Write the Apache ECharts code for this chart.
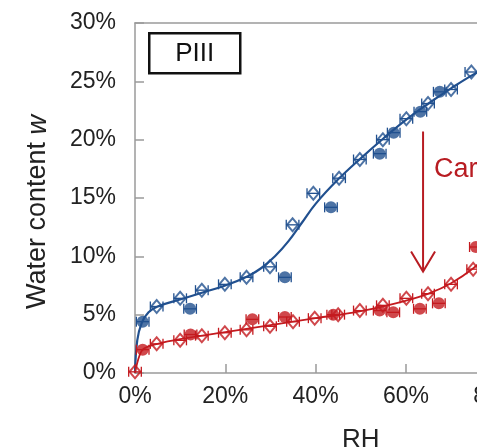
<!DOCTYPE html>
<html>
<head>
<meta charset="utf-8">
<script src="https://cdn.jsdelivr.net/npm/echarts@6/dist/echarts.min.js"></script>
<style>
  html, body { margin: 0; padding: 0; background: #fff; overflow: hidden; }
  #main { width: 700px; height: 447px; }
</style>
</head>
<body>
<div id="main"></div>
<script>
// Sorption isotherm of sample PIII: water content w vs. relative humidity RH (%)
const blueOpenRH = [4.8, 10.0, 14.8, 19.9, 24.7, 29.9, 34.9, 39.5, 45.2, 49.8, 54.9, 60.1, 64.9, 70.0, 74.5];
const blueOpenW  = [5.7, 6.4, 7.1, 7.6, 8.2, 9.1, 12.7, 15.4, 16.7, 18.3, 20.0, 21.8, 23.1, 24.3, 25.8];
const blueFillRH = [1.7, 12.2, 33.2, 43.4, 54.2, 57.3, 63.2, 67.5];
const blueFillW  = [4.4, 5.5, 8.2, 14.2, 18.8, 20.6, 22.4, 24.1];
const blueFitRH  = [0, 0.5, 1.5, 3, 5, 10, 15, 20, 25, 28, 31, 34, 37, 40, 45, 50, 55, 60, 65, 70, 75, 80];
const blueFitW   = [0, 2.8, 4.3, 5.2, 5.7, 6.3, 6.9, 7.5, 8.3, 9.0, 10.0, 11.3, 12.9, 14.5, 16.6, 18.4, 20.1, 21.7, 23.1, 24.4, 25.6, 26.6];

const redOpenRH = [0, 4.8, 10.0, 14.8, 19.9, 24.7, 29.9, 35.0, 39.8, 45.0, 49.8, 54.9, 60.1, 64.9, 70.0, 74.9];
const redOpenW  = [0.1, 2.5, 2.8, 3.2, 3.45, 3.7, 4.0, 4.4, 4.7, 5.0, 5.35, 5.8, 6.4, 6.8, 7.6, 8.9];
const redFillRH = [1.7, 12.3, 26.0, 33.2, 43.9, 54.2, 57.2, 63.1, 67.3, 75.5];
const redFillW  = [2.0, 3.3, 4.6, 4.8, 5.0, 5.35, 5.2, 5.5, 5.97, 10.8];
const redFitRH  = [0, 1, 2, 5, 10, 20, 30, 40, 50, 60, 65, 70, 75, 80];
const redFitW   = [0, 1.5, 2.1, 2.5, 2.9, 3.5, 4.1, 4.7, 5.3, 6.2, 6.8, 7.7, 9.0, 10.8];

const rhError = 1.4;               // horizontal uncertainty on RH (percentage points)
const arrowRH = 63.8;              // carbonation arrow: RH position, start w, end w
const arrowFromW = 20.7;
const arrowToW = 8.7;

const xTicks = [0, 20, 40, 60, 80, 100];
const yTicks = [0, 5, 10, 15, 20, 25, 30];

const BLUE = '#21508f';
const RED = '#c41a1f';
const AXIS = '#9a9a9a';
const FONT = '"Liberation Sans", Arial, Helvetica, sans-serif';

const pairs = (xs, ys) => xs.map((x, i) => [x, ys[i]]);
const withErr = (xs, ys) => xs.map((x, i) => [x, ys[i], rhError]);

function errorBars(color) {
  return function (params, api) {
    const x = api.value(0), y = api.value(1), e = api.value(2);
    const a = api.coord([x - e, y]);
    const b = api.coord([x + e, y]);
    const h = 5;
    const st = { stroke: color, lineWidth: 1.3, fill: null };
    return {
      type: 'group',
      children: [
        { type: 'line', shape: { x1: a[0], y1: a[1], x2: b[0], y2: b[1] }, style: st },
        { type: 'line', shape: { x1: a[0], y1: a[1] - h, x2: a[0], y2: a[1] + h }, style: st },
        { type: 'line', shape: { x1: b[0], y1: b[1] - h, x2: b[0], y2: b[1] + h }, style: st }
      ]
    };
  };
}

const chart = echarts.init(document.getElementById('main'), null, { renderer: 'canvas' });

const option = {
  animation: false,
  backgroundColor: '#fff',
  grid: { left: 135, top: 23, right: 113.5, bottom: 74, containLabel: false, outerBoundsMode: 'none' },
  xAxis: [{
    type: 'value', min: 0, max: 100, interval: 20,
    name: 'RH', nameLocation: 'middle', nameGap: 54,
    nameTextStyle: { fontFamily: FONT, fontSize: 26, color: '#222' },
    axisLine: { lineStyle: { color: AXIS, width: 1.5 } },
    axisTick: { inside: true, length: 9, lineStyle: { color: AXIS, width: 1.5 } },
    axisLabel: {
      margin: 12, fontFamily: FONT, fontSize: 23, color: '#222',
      formatter: v => xTicks.includes(v) ? v + '%' : ''
    },
    splitLine: { show: false }
  }, {
    type: 'value', min: 0, max: 100, position: 'top',
    axisLine: { show: true, lineStyle: { color: AXIS, width: 1.5 } },
    axisTick: { show: false }, axisLabel: { show: false }, splitLine: { show: false }
  }],
  yAxis: {
    type: 'value', min: 0, max: 30, interval: 5,
    axisLine: { show: true, lineStyle: { color: AXIS, width: 1.5 } },
    axisTick: { show: true, inside: true, length: 9, lineStyle: { color: AXIS, width: 1.5 } },
    axisLabel: {
      margin: 19, fontFamily: FONT, fontSize: 23, color: '#222',
      formatter: v => yTicks.includes(v) ? v + '%' : ''
    },
    splitLine: { show: false }
  },
  graphic: [
    {
      type: 'text', x: 38, y: 212, rotation: Math.PI / 2,
      style: {
        text: 'Water content {i|w}', fontFamily: FONT, fontSize: 27, fill: '#222',
        align: 'center', verticalAlign: 'middle',
        rich: { i: { fontFamily: FONT, fontSize: 27, fontStyle: 'italic', fill: '#222' } }
      }
    },
    {
      type: 'group', left: 148, top: 32,
      children: [
        { type: 'rect', shape: { x: 0, y: 0, width: 91, height: 40 },
          style: { fill: '#fff', stroke: '#111', lineWidth: 2.5 } },
        { type: 'text', x: 45.5, y: 21,
          style: { text: 'PIII', fontFamily: FONT, fontSize: 26, fill: '#111',
                   align: 'center', verticalAlign: 'middle' } }
      ]
    },
    {
      type: 'text', left: 434, top: 156,
      style: { text: 'Carbonation', fontFamily: FONT, fontSize: 27, fill: '#b81c22' }
    }
  ],
  series: [
    { type: 'line', data: pairs(blueFitRH, blueFitW), smooth: 0.4,
      showSymbol: false, lineStyle: { color: BLUE, width: 2.2 }, z: 1 },
    { type: 'line', data: pairs(redFitRH, redFitW), smooth: 0.4,
      showSymbol: false, lineStyle: { color: RED, width: 1.8 }, z: 1 },
    { type: 'custom', renderItem: errorBars(BLUE), data: withErr(blueOpenRH, blueOpenW), z: 2 },
    { type: 'custom', renderItem: errorBars(BLUE), data: withErr(blueFillRH, blueFillW), z: 2 },
    { type: 'custom', renderItem: errorBars(RED), data: withErr(redOpenRH, redOpenW), z: 2 },
    { type: 'custom', renderItem: errorBars(RED), data: withErr(redFillRH, redFillW), z: 2 },
    { type: 'scatter', data: pairs(blueOpenRH, blueOpenW), symbol: 'diamond', symbolSize: [11, 13],
      itemStyle: { color: 'rgba(255,255,255,0)', borderColor: BLUE, borderWidth: 2 }, z: 3 },
    { type: 'scatter', data: pairs(redOpenRH, redOpenW), symbol: 'diamond', symbolSize: [11, 13],
      itemStyle: { color: 'rgba(255,255,255,0)', borderColor: RED, borderWidth: 2 }, z: 3 },
    { type: 'scatter', data: pairs(blueFillRH, blueFillW), symbol: 'circle', symbolSize: 12,
      itemStyle: { color: BLUE }, z: 4 },
    { type: 'scatter', data: pairs(redFillRH, redFillW), symbol: 'circle', symbolSize: 12,
      itemStyle: { color: RED }, z: 4 },
    {
      type: 'custom', z: 5, data: [[arrowRH, arrowFromW, arrowToW]],
      renderItem: function (params, api) {
        const top = api.coord([api.value(0), api.value(1)]);
        const tip = api.coord([api.value(0), api.value(2)]);
        const st = { stroke: '#b81c22', lineWidth: 2, fill: null };
        return {
          type: 'group',
          children: [
            { type: 'line', shape: { x1: top[0], y1: top[1], x2: tip[0], y2: tip[1] }, style: st },
            { type: 'polyline', shape: { points: [[tip[0] - 12, tip[1] - 20], [tip[0], tip[1]], [tip[0] + 12, tip[1] - 20]] }, style: st }
          ]
        };
      }
    }
  ]
};

chart.setOption(option);
</script>
</body>
</html>
